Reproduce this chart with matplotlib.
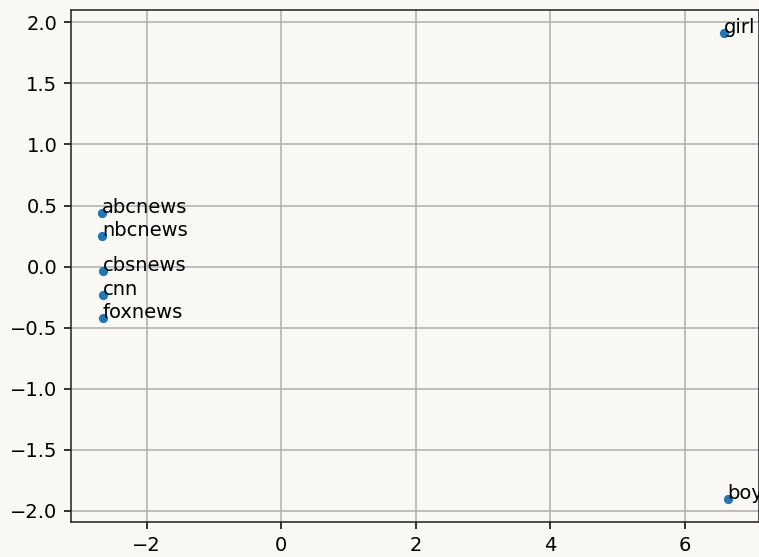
import matplotlib
matplotlib.use("Agg")
import matplotlib.pyplot as plt

labels = ["abcnews", "nbcnews", "cbsnews", "cnn", "foxnews", "girl", "boy"]
xs = [-2.66, -2.66, -2.65, -2.65, -2.65, 6.58, 6.64]
ys = [0.44, 0.25, -0.04, -0.23, -0.42, 1.91, -1.90]

bg = "#f9f8f4"
DPI = 140
fig = plt.figure(figsize=(759/DPI, 557/DPI), dpi=DPI, facecolor=bg)
ax = fig.add_axes([71/759, 35/557, 688/759, 512/557])
ax.set_facecolor(bg)
ax.scatter(xs, ys, s=14, color="#1f77b4", zorder=3)
for lab, x, y in zip(labels, xs, ys):
    ax.annotate(lab, (x, y), fontsize=10, zorder=4)
ax.grid(True, color="#b0b0b0", linewidth=0.8)
ax.set_axisbelow(True)
for sp in ax.spines.values():
    sp.set_color("#222222")
fig.savefig("out.png", dpi=DPI, facecolor=bg)
